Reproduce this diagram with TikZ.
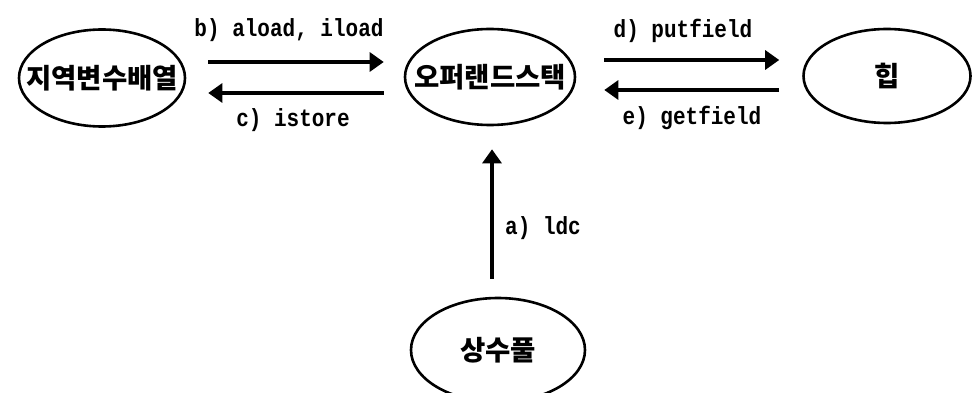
\documentclass[tikz,border=0pt]{standalone}
\usepackage{fontspec}
\usetikzlibrary{arrows.meta,shapes.geometric}
\newfontfamily\krfont{Noto Sans CJK KR}
\newfontfamily\labfont{Liberation Mono}
\newcommand\talltext[1]{\scalebox{1}[1.18]{#1}}
\tikzset{
  blob/.style={draw, ellipse, line width=2.6pt, inner sep=0pt},
  krtext/.style={font=\krfont\bfseries\fontsize{27.5}{30}\selectfont, inner sep=0pt},
  arr/.style={line width=3.1pt, -{Triangle[length=14pt,width=19pt]}},
  lbl/.style={font=\labfont\bfseries\fontsize{21}{24}\selectfont, inner sep=0pt}
}
\begin{document}
\begin{tikzpicture}[x=1pt,y=-1pt]
\useasboundingbox (0,0) rectangle (974,393);
\clip (0,0) rectangle (974,393);
\node[blob, minimum width=166pt, minimum height=97pt,
      label={[krtext]center:지역변수배열}] (v) at (102,78) {};
\node[blob, minimum width=170pt, minimum height=96pt,
      label={[krtext]center:오퍼랜드스택}] (o) at (490,77) {};
\node[blob, minimum width=167pt, minimum height=94pt,
      label={[krtext]center:힙}] (h) at (887,76) {};
\node[blob, minimum width=174pt, minimum height=104pt,
      label={[krtext]center:상수풀}] (k) at (498,350) {};
\draw[arr] ([shift={(22,-16)}]v.east) -- ([shift={(-20,-15)}]o.west);
\draw[arr] ([shift={(-20,16)}]o.west) -- ([shift={(22,15)}]v.east);
\draw[arr] ([shift={(28,-17)}]o.east) -- ([shift={(-23,-16)}]h.west);
\draw[arr] ([shift={(-23,14)}]h.west) -- ([shift={(28,13)}]o.east);
\draw[arr] ([shift={(-6,-18)}]k.north) -- ([shift={(2,23)}]o.south);
\node[lbl] (lb) at (289,30) {\talltext{b) aload, iload}};
\node[lbl] (lc) at (293,120) {\talltext{c) istore}};
\node[lbl] (ld) at (683,31) {\talltext{d) putfield}};
\node[lbl] (le) at (692,118) {\talltext{e) getfield}};
\node[lbl, anchor=west] (la) at (505,228) {\talltext{a) ldc}};
\end{tikzpicture}
\end{document}
